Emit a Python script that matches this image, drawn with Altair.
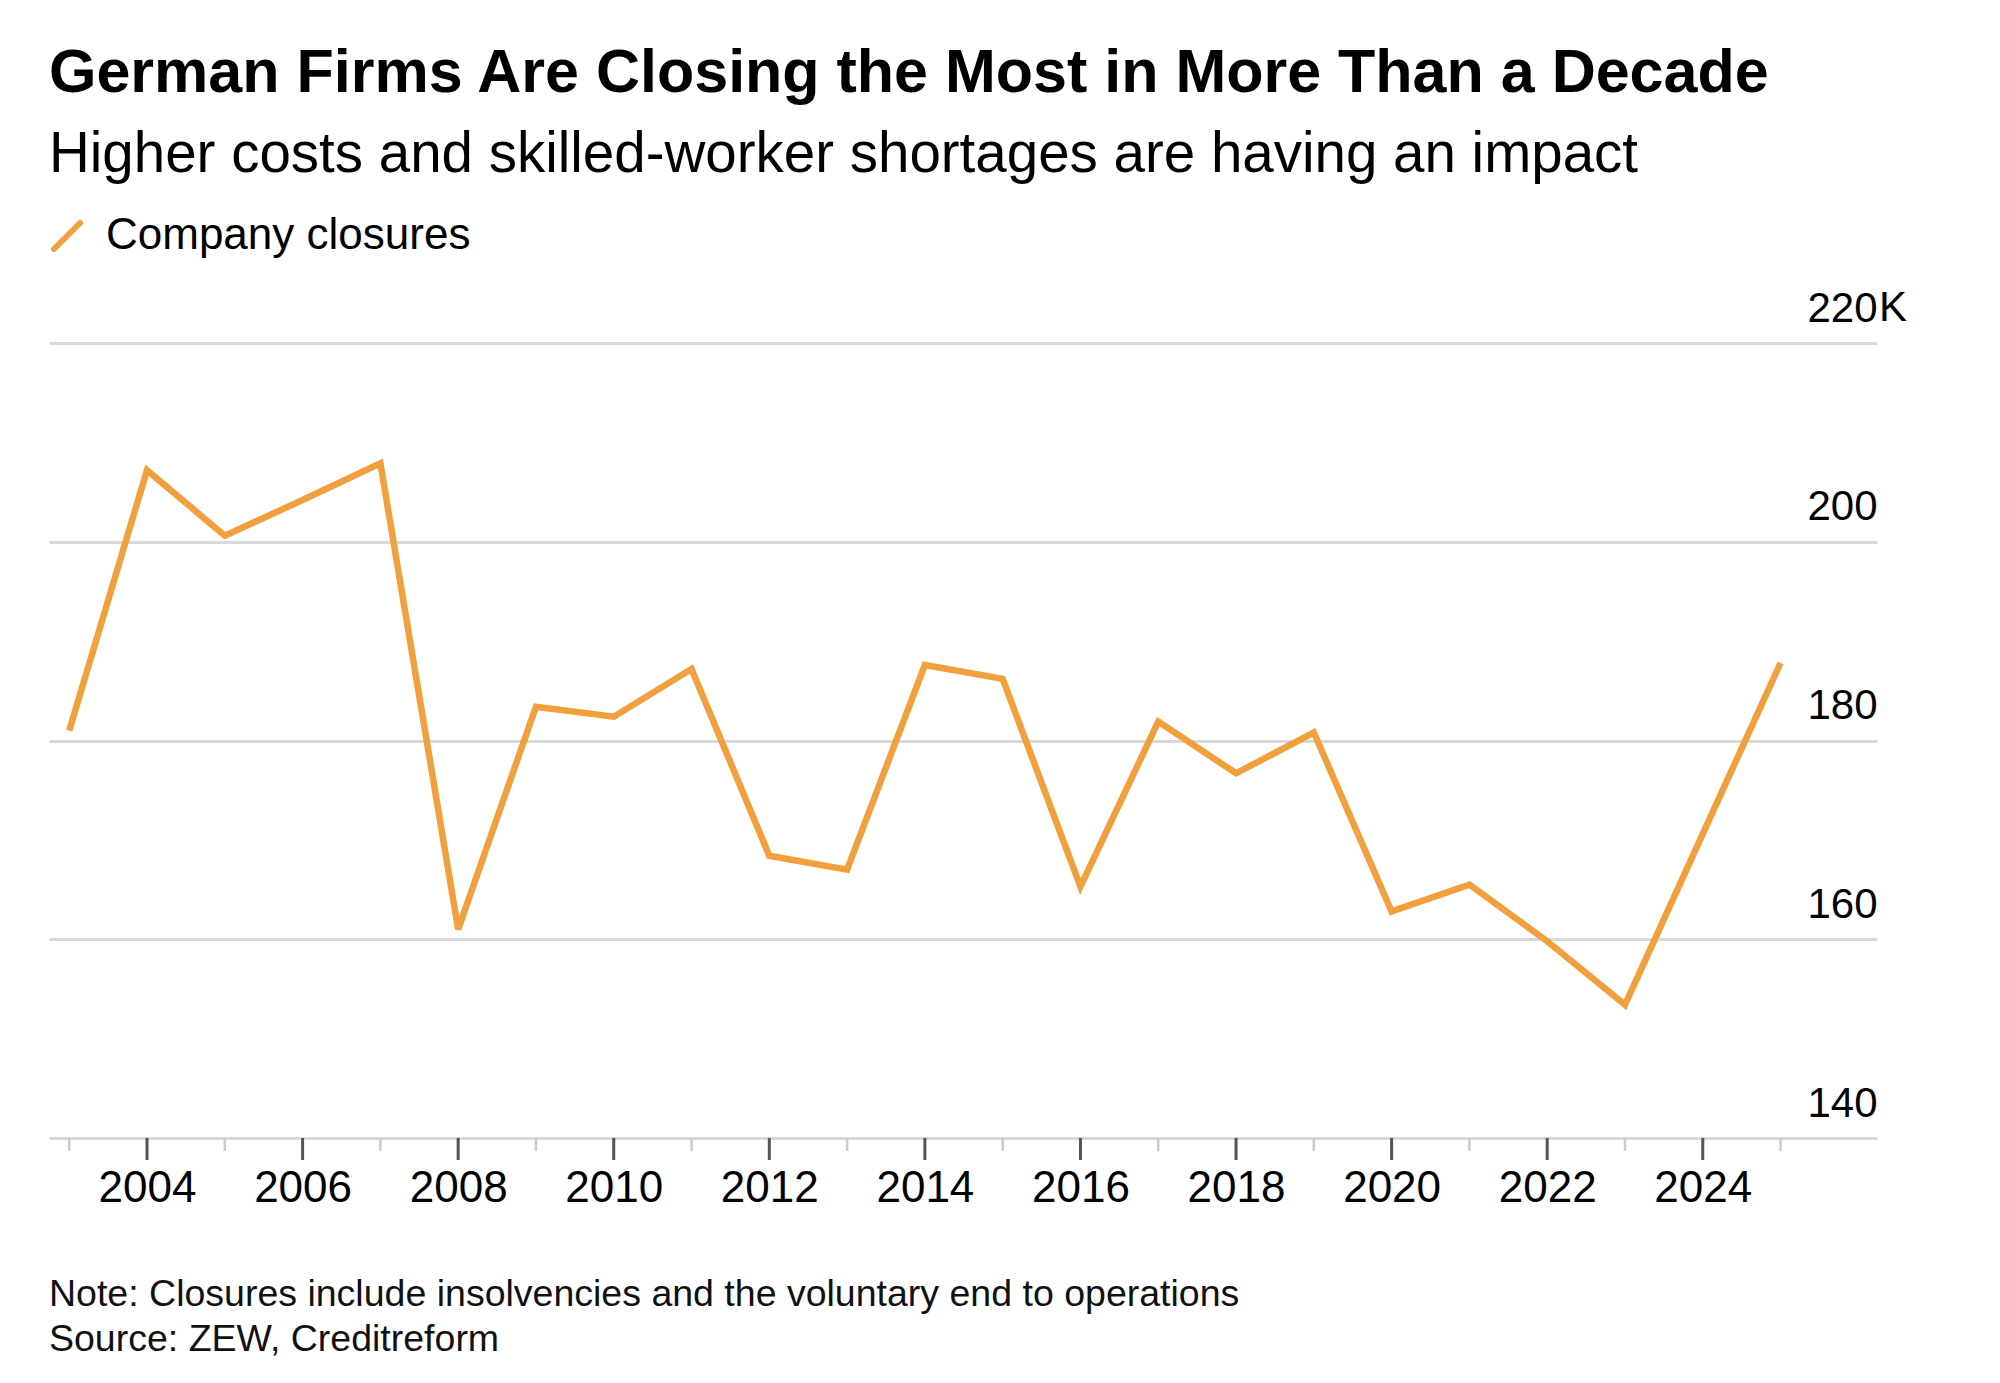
import altair as alt
import pandas as pd

# ---- data ----
years = list(range(2003, 2026))
closures = [181.0, 207.2, 200.6, 204.2, 207.9, 161.0, 183.4, 182.4, 187.2,
            168.4, 167.0, 187.6, 186.2, 165.3, 181.9, 176.7, 180.8, 162.8,
            165.5, 159.8, 153.4, 170.6, 187.8]
y_ticks = [140, 160, 180, 200, 220]
x_label_years = [2004, 2006, 2008, 2010, 2012, 2014, 2016, 2018, 2020, 2022, 2024]
major_tick_years = x_label_years
minor_tick_years = [2003, 2005, 2007, 2009, 2011, 2013, 2015, 2017, 2019, 2021, 2023, 2025]
series_name = ["Company closures"]
top_suffix = ["K"]

TITLE = "German Firms Are Closing the Most in More Than a Decade"
SUBTITLE = "Higher costs and skilled-worker shortages are having an impact"
NOTE = "Note: Closures include insolvencies and the voluntary end to operations"
SOURCE = "Source: ZEW, Creditreform"

FONT = "Liberation Sans"
ORANGE = "#F2A03D"
GRID = "#d9d9d9"
W, H = 1828, 795

xscale = alt.Scale(domain=[2002.74, 2026.24], nice=False, zero=False)
yscale = alt.Scale(domain=[140, 220], nice=False, zero=False)

x_axis = alt.Axis(values=x_label_years, format="d", title=None,
                  ticks=False, tickSize=0, domain=False, grid=False,
                  labelFontSize=44, labelFont=FONT, labelColor="#000",
                  labelBaseline="alphabetic", labelPadding=63,
                  labelFlush=False, labelOverlap=False)
y_axis = alt.Axis(orient="right", values=y_ticks, title=None,
                  grid=True, gridColor=GRID, gridWidth=3,
                  ticks=False, tickSize=0, domain=False,
                  labelAlign="right", labelBaseline="alphabetic",
                  labelOffset=-22, labelPadding=0,
                  labelFontSize=42, labelFont=FONT, labelColor="#000",
                  labelFlush=False, labelOverlap=False)

df = pd.DataFrame({"year": years, "closures": closures})

line = alt.Chart(df).mark_line(
    color=ORANGE, strokeWidth=6.5, strokeJoin="miter"
).encode(
    x=alt.X("year:Q", scale=xscale, axis=x_axis),
    y=alt.Y("closures:Q", scale=yscale, axis=y_axis),
)

major_ticks = alt.Chart(pd.DataFrame({"year": major_tick_years})).mark_rule(
    color="#555555", strokeWidth=3
).encode(
    x=alt.X("year:Q", scale=xscale, axis=x_axis),
    y=alt.value(H), y2=alt.value(H + 22),
)

minor_ticks = alt.Chart(pd.DataFrame({"year": minor_tick_years})).mark_rule(
    color="#cccccc", strokeWidth=2.5
).encode(
    x=alt.X("year:Q", scale=xscale, axis=x_axis),
    y=alt.value(H), y2=alt.value(H + 13),
)

suffix = alt.Chart(pd.DataFrame({"closures": [y_ticks[-1]], "t": top_suffix})).mark_text(
    align="left", baseline="alphabetic", dy=-22, fontSize=42, font=FONT, color="#000"
).encode(
    y=alt.Y("closures:Q", scale=yscale, axis=y_axis),
    x=alt.value(W + 2),
    text="t:N",
)


def label(text, x, y, size, weight="normal", color="#000"):
    return alt.Chart(pd.DataFrame({"t": [text]})).mark_text(
        align="left", baseline="alphabetic", fontSize=size, font=FONT,
        fontWeight=weight, color=color
    ).encode(text="t:N", x=alt.value(x), y=alt.value(y))


title = label(TITLE, 0, -251, 61, "bold")
subtitle = label(SUBTITLE, 0, -171, 56.5)
legend_text = label(series_name[0], 57, -94, 44)
note = label(NOTE, 0, 963, 37.5, color="#111")
source = label(SOURCE, 0, 1008, 37.5, color="#111")

legend_swatch = alt.Chart(pd.DataFrame({"s": series_name})).mark_rule(
    color=ORANGE, strokeWidth=6, strokeCap="round"
).encode(
    x=alt.value(5), x2=alt.value(31), y=alt.value(-94), y2=alt.value(-120)
)

chart = alt.layer(
    line, major_ticks, minor_ticks, suffix,
    title, subtitle, legend_swatch, legend_text, note, source
).properties(
    width=W, height=H,
    autosize=alt.AutoSizeParams(type="none"),
    padding={"left": 41, "top": 335, "right": 115, "bottom": 237},
    background="#ffffff",
).configure_view(stroke=None)

chart.save("out.html", embed_options={"renderer": "svg", "actions": False})
